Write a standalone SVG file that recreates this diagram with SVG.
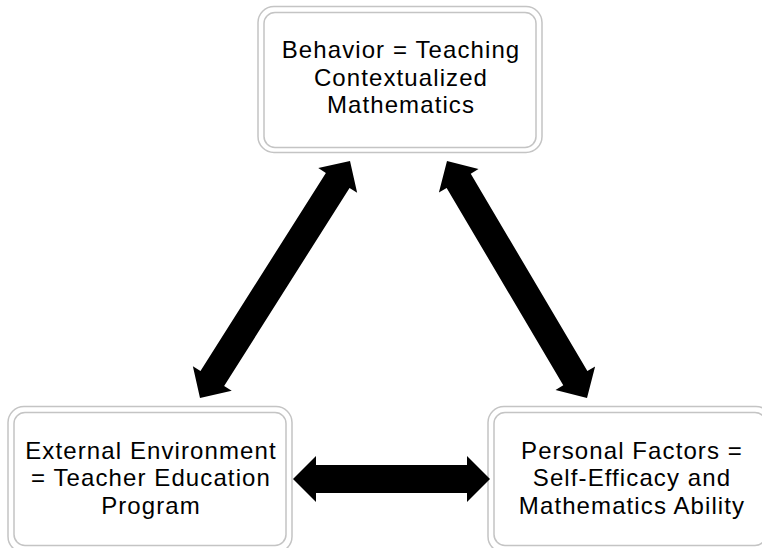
<svg xmlns="http://www.w3.org/2000/svg" width="762" height="548" viewBox="0 0 762 548">
<style>
.o{fill:#fff;stroke:#c4c4c4;stroke-width:1.5}
.i{fill:none;stroke:#c4c4c4;stroke-width:1.5}
.t{font-family:"Liberation Sans",Arial,sans-serif;font-size:24px;letter-spacing:1.1px;fill:#000;text-anchor:middle}
.a{fill:#000}
</style>
<rect width="762" height="548" fill="#fff"/>
<g id="behavior">
<rect class="o" x="258" y="6.5" width="284" height="146" rx="16"/>
<rect class="i" x="264" y="12.5" width="272" height="135" rx="11"/>
<text class="t" x="401" y="58">Behavior = Teaching</text>
<text class="t" x="401" y="85.5">Contextualized</text>
<text class="t" x="401" y="113">Mathematics</text>
</g>
<g id="environment">
<rect class="o" x="8" y="406.5" width="284" height="146" rx="16"/>
<rect class="i" x="14" y="412.5" width="272" height="133" rx="11"/>
<text class="t" x="151" y="458.5">External Environment</text>
<text class="t" x="151" y="486">= Teacher Education</text>
<text class="t" x="151" y="513.5">Program</text>
</g>
<g id="personal">
<rect class="o" x="488" y="406.5" width="284" height="146" rx="16"/>
<rect class="i" x="494" y="412.5" width="272" height="133" rx="11"/>
<text class="t" x="632" y="458.5">Personal Factors =</text>
<text class="t" x="632" y="486">Self-Efficacy and</text>
<text class="t" x="632" y="513.5">Mathematics Ability</text>
</g>
<g id="connectors">
<polygon class="a" transform="translate(293,479)" points="0,0 23,-23 23,-14 174,-14 174,-23 197,0 174,23 174,14 23,14 23,23"/>
<polygon class="a" transform="translate(200,398) rotate(-57.67)" points="0,0 23,-23 23,-14 257.5,-14 257.5,-23 280.5,0 257.5,23 257.5,14 23,14 23,23"/>
<polygon class="a" transform="translate(447,161) rotate(59.43)" points="0,0 23,-23 23,-14 252.3,-14 252.3,-23 275.3,0 252.3,23 252.3,14 23,14 23,23"/>
</g>
</svg>
